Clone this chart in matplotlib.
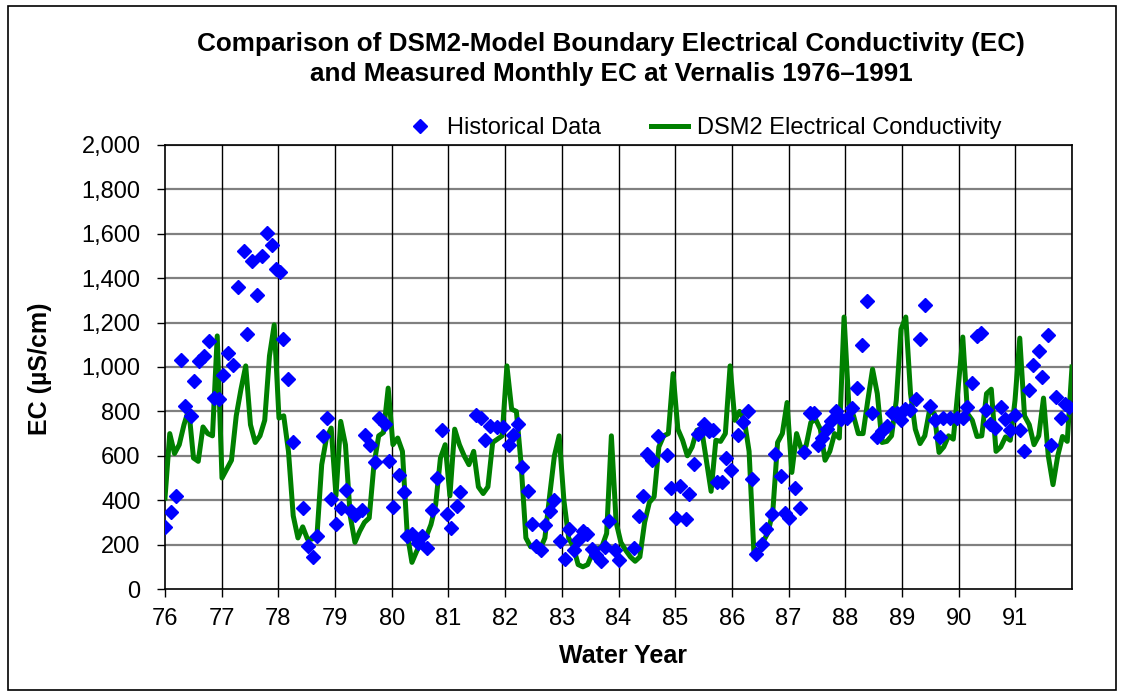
import numpy as np
import matplotlib
matplotlib.use("Agg")
import matplotlib.pyplot as plt
from matplotlib.patches import Rectangle
from matplotlib.ticker import FuncFormatter, MultipleLocator

plt.rcParams['font.family'] = ['Liberation Sans', 'DejaVu Sans']

# DSM2 modelled EC, monthly, water years 1976-1991
dsm2_76 = [410, 700, 610, 650, 740, 810, 590, 575, 730, 700, 690, 1140]
dsm2_77 = [500, 540, 580, 780, 900, 1005, 740, 660, 690, 760, 1050, 1190]
dsm2_78 = [770, 780, 620, 330, 230, 280, 225, 225, 240, 560, 680, 725]
dsm2_79 = [420, 755, 650, 330, 210, 260, 300, 320, 560, 690, 705, 905]
dsm2_80 = [650, 680, 620, 250, 120, 170, 215, 235, 290, 380, 590, 650]
dsm2_81 = [420, 720, 650, 600, 560, 620, 460, 430, 460, 660, 675, 690]
dsm2_82 = [1005, 810, 800, 560, 230, 190, 200, 180, 230, 420, 600, 690]
dsm2_83 = [400, 230, 190, 110, 100, 110, 160, 180, 190, 250, 690, 300]
dsm2_84 = [210, 175, 145, 125, 145, 300, 390, 415, 640, 690, 700, 970]
dsm2_85 = [720, 670, 600, 640, 715, 720, 580, 440, 670, 665, 700, 1005]
dsm2_86 = [760, 800, 760, 620, 170, 160, 215, 255, 350, 660, 700, 840]
dsm2_87 = [525, 700, 630, 645, 750, 765, 720, 580, 620, 700, 680, 1225]
dsm2_88 = [830, 780, 700, 700, 850, 990, 880, 660, 665, 690, 850, 1170]
dsm2_89 = [1225, 880, 720, 655, 690, 805, 790, 615, 640, 690, 675, 900]
dsm2_90 = [1135, 790, 760, 687, 690, 880, 900, 620, 640, 685, 670, 850]
dsm2_91 = [1130, 780, 740, 650, 690, 860, 600, 470, 600, 687, 665, 1000]

# Historical (measured) EC
hist_year = [76.00, 76.10, 76.19, 76.28, 76.36, 76.45, 76.52, 76.60, 76.68, 76.78, 76.86, 76.95,
             77.03, 77.12, 77.20, 77.28, 77.39, 77.45, 77.54, 77.62, 77.71, 77.80, 77.89, 77.95,
             78.02, 78.09, 78.17, 78.26, 78.43, 78.52, 78.61, 78.68, 78.79, 78.85, 78.93,
             79.01, 79.10, 79.20, 79.28, 79.36, 79.47, 79.53, 79.62, 79.70, 79.77, 79.88, 79.95,
             80.03, 80.12, 80.21, 80.27, 80.36, 80.46, 80.54, 80.62, 80.71, 80.79, 80.88, 80.97,
             81.04, 81.15, 81.21, 81.48, 81.57, 81.64, 81.73, 81.85, 81.96,
             82.06, 82.14, 82.23, 82.30, 82.40, 82.47, 82.54, 82.63, 82.71, 82.80, 82.87, 82.96,
             83.05, 83.13, 83.21, 83.29, 83.37, 83.45, 83.53, 83.60, 83.69, 83.76, 83.84, 83.93,
             84.00, 84.27, 84.36, 84.43, 84.51, 84.59, 84.70, 84.85, 84.93,
             85.02, 85.09, 85.19, 85.25, 85.33, 85.41, 85.50, 85.59, 85.67, 85.73, 85.83, 85.90, 85.99,
             86.10, 86.19, 86.29, 86.35, 86.42, 86.53, 86.60, 86.70, 86.76, 86.87, 86.94,
             87.01, 87.11, 87.20, 87.27, 87.37, 87.45, 87.52, 87.59, 87.67, 87.75, 87.84, 87.93,
             88.03, 88.12, 88.20, 88.29, 88.38, 88.47, 88.56, 88.64, 88.73, 88.82, 88.91, 88.99,
             89.06, 89.15, 89.24, 89.32, 89.41, 89.50, 89.58, 89.68, 89.73, 89.85, 89.97,
             90.08, 90.15, 90.23, 90.32, 90.39, 90.48, 90.55, 90.64, 90.75, 90.82, 90.91,
             91.00, 91.09, 91.16, 91.24, 91.31, 91.41, 91.47, 91.57, 91.63, 91.71, 91.80, 91.87, 91.95]
hist_ec = [280, 345, 417, 1032, 826, 780, 935, 1025, 1050, 1119, 862, 856,
           965, 1062, 1010, 1362, 1522, 1150, 1476, 1325, 1500, 1605, 1548, 1440,
           1430, 1125, 945, 660, 365, 192, 144, 237, 690, 770, 405,
           293, 365, 447, 350, 335, 354, 695, 647, 570, 770, 744, 575,
           370, 515, 435, 237, 250, 207, 237, 185, 357, 500, 714, 337,
           275, 372, 435, 785, 770, 672, 732, 728, 728,
           647, 692, 741, 550, 440, 293, 192, 174, 287, 350, 400, 215,
           135, 272, 177, 222, 260, 250, 180, 155, 125, 190, 305, 177,
           132, 185, 328, 418, 606, 579, 689, 602, 456,
           320, 466, 316, 430, 564, 696, 741, 711, 716, 483, 483, 591, 535,
           693, 753, 800, 495, 157, 202, 270, 340, 607, 507, 342,
           320, 453, 367, 615, 795, 792, 650, 678, 720, 757, 800, 765,
           770, 815, 905, 1100, 1297, 792, 684, 710, 732, 792, 795, 762,
           810, 807, 855, 1125, 1280, 826, 762, 684, 770, 770, 770,
           770, 822, 930, 1140, 1152, 807, 744, 724, 822, 765, 717,
           785, 717, 620, 897, 1010, 1074, 957, 1145, 650, 867, 770, 834, 819]

year_ticks = list(range(76, 92))

dsm2 = np.concatenate([dsm2_76, dsm2_77, dsm2_78, dsm2_79, dsm2_80, dsm2_81, dsm2_82, dsm2_83,
                       dsm2_84, dsm2_85, dsm2_86, dsm2_87, dsm2_88, dsm2_89, dsm2_90, dsm2_91])
dsm2_x = np.linspace(76, 92, len(dsm2))

W, H = 1124, 694
fig = plt.figure(figsize=(W / 100, H / 100), dpi=100)
ax = fig.add_axes([165 / W, 1 - 589 / H, (1072 - 165) / W, (589 - 145) / H])

ax.plot(dsm2_x, dsm2, color='#008000', lw=3.6, zorder=3, label='DSM2 Electrical Conductivity',
        solid_joinstyle='round')
ax.plot(hist_year, hist_ec, ls='none', marker='D', ms=7.5, color='#0000FF', mec='#0000FF',
        zorder=4, label='Historical Data')

ax.set_xlim(76, 92)
ax.set_ylim(0, 2000)
ax.set_xticks(year_ticks)
ax.set_xticklabels([str(y) for y in year_ticks])
ax.yaxis.set_major_locator(MultipleLocator(200))
ax.yaxis.set_major_formatter(FuncFormatter(lambda v, p: f"{int(v):,}"))

for y in range(200, 2001, 200):
    ax.axhline(y, color='#808080', lw=1.6, zorder=1)
for x in year_ticks[1:] + [92]:
    ax.axvline(x, color='black', lw=1.0, zorder=1)

for s in ax.spines.values():
    s.set_color('black')
    s.set_linewidth(1.2)
ax.tick_params(axis='both', labelsize=17, colors='black', length=5.5, width=1, direction='out')
ax.tick_params(axis='x', pad=8.5)
ax.tick_params(axis='y', pad=12)

fig.text(623 / W, 1 - 656 / H, 'Water Year', fontsize=18, fontweight='bold',
         ha='center', va='center')
fig.text(40 / W, 1 - 369 / H, 'EC (µS/cm)', fontsize=18, fontweight='bold',
         ha='center', va='center', rotation=90)

fig.text(611 / W, 1 - 59 / H, 'Comparison of DSM2-Model Boundary Electrical Conductivity (EC)\n'
         'and Measured Monthly EC at Vernalis 1976\u20131991',
         ha='center', va='center', fontsize=18.8, fontweight='bold', linespacing=1.3)

h, l = ax.get_legend_handles_labels()
fig.legend([h[1], h[0]], [l[1], l[0]], loc='center', bbox_to_anchor=(701 / W, 1 - 128 / H), ncol=2,
           frameon=False, fontsize=17, handlelength=1.6, columnspacing=2.1, handletextpad=0.35,
           borderpad=0.2)

fig.patches.append(Rectangle((8 / W, 4 / H), 1108 / W, 684 / H, transform=fig.transFigure,
                             fill=False, edgecolor='black', lw=1.2))

fig.savefig('out.png', dpi=100)
